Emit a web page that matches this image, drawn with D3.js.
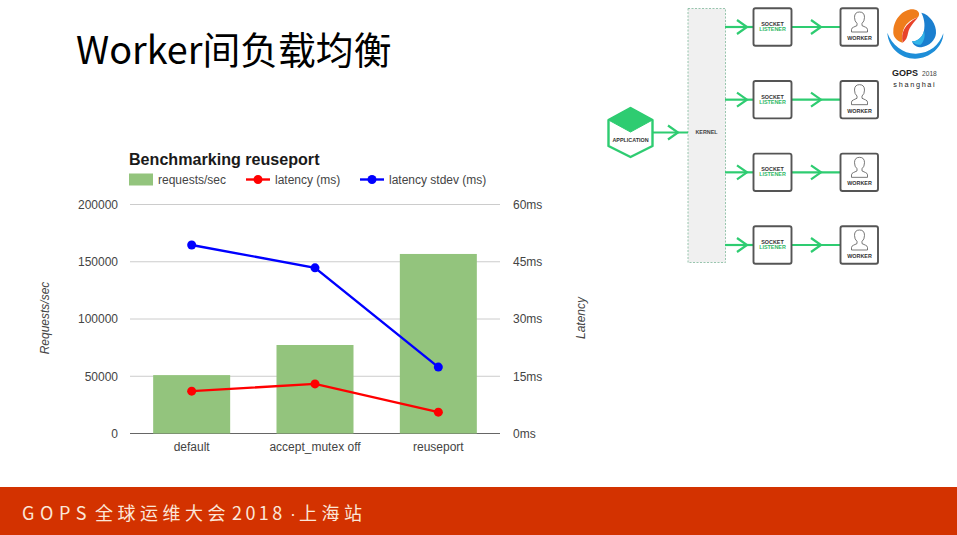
<!DOCTYPE html>
<html>
<head>
<meta charset="utf-8">
<script src="https://cdn.jsdelivr.net/npm/d3@7"></script>
<style>
html, body { margin: 0; padding: 0; background: #fff; }
svg { display: block; }
</style>
</head>
<body>
<script>
// chart data
var categories = ["default", "accept_mutex off", "reuseport"];
var requests = [51000, 77300, 156800];
var latency = [11.1, 13, 5.6];
var latencyStdev = [49.4, 43.4, 17.4];
var leftTicks = [0, 50000, 100000, 150000, 200000];
var rightTicks = [0, 15, 30, 45, 60];
var workerRows = ["row1", "row2", "row3", "row4"];

var font = "Liberation Sans, Arial, sans-serif";
var cjk = "'Noto Sans CJK SC', 'Noto Sans', sans-serif";
var green = "#2ecc71";

var svg = d3.select("body").append("svg").attr("width", 957).attr("height", 535);

// slide title and footer
svg.append("text").attr("x", 76).attr("y", 64)
	.style("font-family", cjk).style("font-size", "37.8px").attr("fill", "#000")
	.text("Worker间负载均衡");

svg.append("rect").attr("x", 0).attr("y", 487).attr("width", 957).attr("height", 48).attr("fill", "#d33200");
var footer = svg.append("text").attr("y", 520)
	.style("font-family", cjk).style("font-size", "18px").attr("fill", "#fbe6d8");
footer.append("tspan").attr("x", 22).style("letter-spacing", "5.6px").text("GOPS");
footer.append("tspan").attr("x", 95).style("letter-spacing", "4.5px").text("全球运维大会");
footer.append("tspan").attr("x", 232).style("letter-spacing", "3.4px").text("2018");
footer.append("tspan").attr("x", 290).style("font-family", font).text("·");
footer.append("tspan").attr("x", 299).style("letter-spacing", "4.5px").text("上海站");

// chart scales
var x = d3.scaleBand().domain(categories).range([130, 500]);
var yLeft = d3.scaleLinear().domain([0, 200000]).range([433.5, 204.5]);
var yRight = d3.scaleLinear().domain([0, 60]).range([433.5, 204.5]);
var barWidth = 77;
var cx = function(i) { return x(categories[i]) + x.bandwidth() / 2; };

var chart = svg.append("g");

chart.append("text").attr("x", 129).attr("y", 165)
	.style("font-family", font).style("font-size", "16.1px").style("font-weight", "bold").attr("fill", "#1a1a1a")
	.text("Benchmarking reuseport");

// gridlines
chart.selectAll(".grid").data(leftTicks).enter().append("line")
	.attr("class", "grid")
	.attr("x1", 130).attr("x2", 500)
	.attr("y1", function(d) { return yLeft(d); })
	.attr("y2", function(d) { return yLeft(d); })
	.attr("stroke", function(d) { return d === 0 ? "#666" : "#ccc"; })
	.attr("stroke-width", 1);

// axes, only the labels are kept
var axisLeft = chart.append("g").attr("transform", "translate(118,0)")
	.call(d3.axisLeft(yLeft).tickValues(leftTicks).tickSize(0).tickPadding(0).tickFormat(d3.format("d")));
var axisRight = chart.append("g").attr("transform", "translate(513,0)")
	.call(d3.axisRight(yRight).tickValues(rightTicks).tickSize(0).tickPadding(0).tickFormat(function(d) { return d + "ms"; }));
var axisBottom = chart.append("g").attr("transform", "translate(0,442)")
	.call(d3.axisBottom(x).tickSize(0).tickPadding(0));
[axisLeft, axisRight, axisBottom].forEach(function(a) {
	a.select(".domain").remove();
	a.selectAll("text").style("font-family", font).style("font-size", "12px").attr("fill", "#444");
});

chart.append("text").attr("transform", "translate(49,318) rotate(-90)").attr("text-anchor", "middle")
	.style("font-family", font).style("font-size", "12px").style("font-style", "italic").attr("fill", "#444")
	.text("Requests/sec");
chart.append("text").attr("transform", "translate(585,318) rotate(-90)").attr("text-anchor", "middle")
	.style("font-family", font).style("font-size", "12px").style("font-style", "italic").attr("fill", "#444")
	.text("Latency");

// bars
chart.selectAll(".bar").data(requests).enter().append("rect")
	.attr("class", "bar")
	.attr("x", function(d, i) { return cx(i) - barWidth / 2; })
	.attr("width", barWidth)
	.attr("y", function(d) { return yLeft(d); })
	.attr("height", function(d) { return yLeft(0) - yLeft(d); })
	.attr("fill", "#93c47d");

// lines
function drawLine(values, color) {
	var line = d3.line()
		.x(function(d, i) { return cx(i); })
		.y(function(d) { return yRight(d); });
	chart.append("path").datum(values).attr("d", line)
		.attr("fill", "none").attr("stroke", color).attr("stroke-width", 2.4);
	chart.selectAll(null).data(values).enter().append("circle")
		.attr("cx", function(d, i) { return cx(i); })
		.attr("cy", function(d) { return yRight(d); })
		.attr("r", 4.5).attr("fill", color);
}
drawLine(latency, "#ff0000");
drawLine(latencyStdev, "#0000ff");

// legend
var legendText = function(px, label) {
	chart.append("text").attr("x", px).attr("y", 183.5)
		.style("font-family", font).style("font-size", "12px").attr("fill", "#444").text(label);
};
var legendLine = function(px, color) {
	chart.append("line").attr("x1", px).attr("x2", px + 24).attr("y1", 179.5).attr("y2", 179.5)
		.attr("stroke", color).attr("stroke-width", 2.4);
	chart.append("circle").attr("cx", px + 12).attr("cy", 179.5).attr("r", 4.5).attr("fill", color);
};
chart.append("rect").attr("x", 129).attr("y", 173.5).attr("width", 24).attr("height", 12).attr("fill", "#93c47d");
legendText(158, "requests/sec");
legendLine(246, "#ff0000");
legendText(275, "latency (ms)");
legendLine(360, "#0000ff");
legendText(389, "latency stdev (ms)");

// socket diagram
var diagram = svg.append("g");

function arrow(x1, x2, yy, headX) {
	diagram.append("line").attr("x1", x1).attr("x2", x2).attr("y1", yy).attr("y2", yy)
		.attr("stroke", green).attr("stroke-width", 2.2);
	diagram.append("path")
		.attr("d", "M" + (headX - 10) + "," + (yy - 7) + "L" + headX + "," + yy + "L" + (headX - 10) + "," + (yy + 7))
		.attr("fill", "none").attr("stroke", green).attr("stroke-width", 2.2);
}
function smallText(px, py, label, color) {
	diagram.append("text").attr("x", px).attr("y", py).attr("text-anchor", "middle")
		.style("font-family", font).style("font-size", "5.4px").style("font-weight", "bold").attr("fill", color).text(label);
}

diagram.append("rect").attr("x", 688).attr("y", 8.5).attr("width", 37.5).attr("height", 254)
	.attr("fill", "#f0f0f0").attr("stroke", "#7fb89a").attr("stroke-width", 0.8).attr("stroke-dasharray", "2,1.5");
smallText(706.5, 133.5, "KERNEL", "#444");

var rowY = d3.scalePoint().domain(workerRows).range([27, 245]);
workerRows.forEach(function(r) {
	var yy = rowY(r);
	arrow(725, 753, yy, 747);
	arrow(791, 840, yy, 821);
	diagram.append("rect").attr("x", 753.5).attr("y", yy - 18.7).attr("width", 38).attr("height", 37.4).attr("rx", 2)
		.attr("fill", "#fff").attr("stroke", "#555").attr("stroke-width", 1.9);
	smallText(772.5, yy - 1, "SOCKET", "#333");
	smallText(772.5, yy + 4, "LISTENER", "#2fb866");
	diagram.append("rect").attr("x", 840.5).attr("y", yy - 18.7).attr("width", 37.5).attr("height", 37.4).attr("rx", 2)
		.attr("fill", "#fff").attr("stroke", "#555").attr("stroke-width", 1.9);
	// worker head and shoulders
	diagram.append("path")
		.attr("d", "M851.5," + (yy + 5) + "v-2.5q0,-1.5 2,-2.3l3.5,-1.6v-2.2q-2.5,-2 -2.5,-6q0,-5.4 5,-5.4q5,0 5,5.4q0,4 -2.5,6v2.2l3.5,1.6q2,0.8 2,2.3v2.5z")
		.attr("fill", "#fff").attr("stroke", "#555").attr("stroke-width", 0.8);
	smallText(859.5, yy + 13, "WORKER", "#333");
});

// application hexagon
arrow(653, 688, 132.5, 678);
diagram.append("path").attr("d", "M630.5,108 L652.5,120 L652.5,146 L630.5,157 L608.5,146 L608.5,120 Z")
	.attr("fill", "#fff").attr("stroke", green).attr("stroke-width", 2.4).attr("stroke-linejoin", "round");
diagram.append("path").attr("d", "M630.5,108 L652.5,120 L630.5,132 L608.5,120 Z").attr("fill", green)
	.attr("stroke", green).attr("stroke-linejoin", "round");
smallText(630.5, 142, "APPLICATION", "#333");

// GOPS logo, shapes traced in 3x crop coordinates
var logo = svg.append("g").attr("transform", "translate(880,0) scale(0.3333)");
logo.append("path").attr("d", "M22,98 C24,140 60,176 105,176 C150,176 190,140 190,100 C178,135 150,160 108,161 C70,162 36,135 22,98 Z").attr("fill", "#1e8ed8");
logo.append("path").attr("d", "M40,92 C42,55 72,26 100,28 C116,30 122,42 114,52 C100,58 80,64 70,90 C66,105 64,115 68,128 C50,122 38,110 40,92 Z").attr("fill", "#ef7d1c");
logo.append("path").attr("d", "M68,128 C62,100 72,72 114,52 C104,66 88,80 84,100 C82,112 78,122 68,128 Z").attr("fill", "#e8432a");
logo.append("path").attr("d", "M124,38 C150,44 170,74 168,100 C166,122 148,138 124,142 C110,142 100,136 96,124 C112,124 128,112 132,92 C136,72 132,54 124,38 Z").attr("fill", "#1b7fcf");
logo.append("path").attr("d", "M132,92 C128,112 112,124 96,124 C102,132 112,136 122,134 C132,124 137,108 132,92 Z").attr("fill", "#33b5e8");
logo.append("text").attr("x", 36).attr("y", 228)
	.style("font-family", font).style("font-size", "27px").style("font-weight", "bold").attr("fill", "#222").text("GOPS");
logo.append("text").attr("x", 126).attr("y", 228)
	.style("font-family", font).style("font-size", "20px").attr("fill", "#444").text("2018");
logo.append("text").attr("x", 40).attr("y", 261)
	.style("font-family", font).style("font-size", "22px").style("letter-spacing", "5px").attr("fill", "#222").text("shanghai");
</script>
</body>
</html>
